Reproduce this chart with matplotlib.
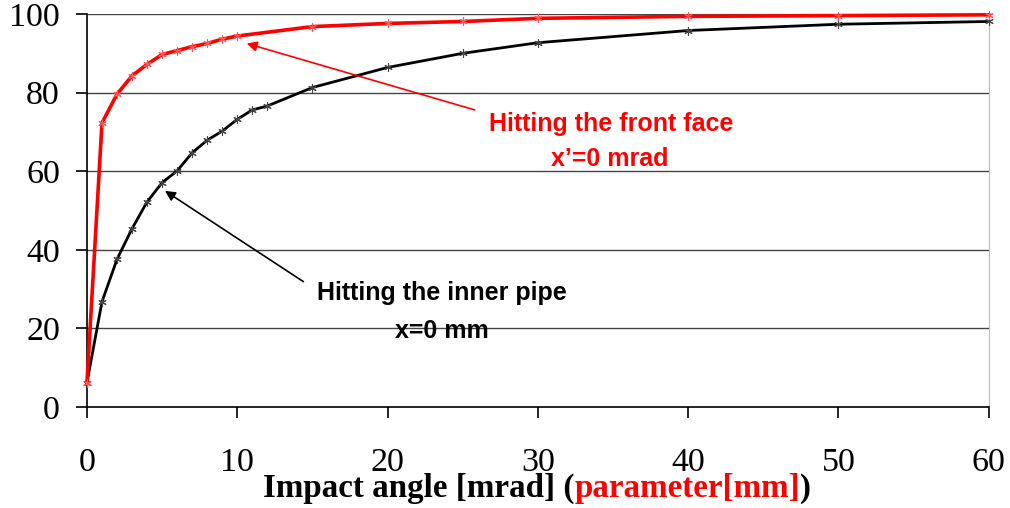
import matplotlib.pyplot as plt
import numpy as np

# data
front_x = [0, 1, 2, 3, 4, 5, 6, 7, 8, 9, 10, 15, 20, 25, 30, 40, 50, 60]
front_y = [6.2, 72.3, 79.6, 84.3, 87.2, 89.7, 90.7, 91.7, 92.5, 93.6, 94.4,
           96.8, 97.6, 98.1, 98.9, 99.4, 99.6, 99.8]
pipe_x = [0, 1, 2, 3, 4, 5, 6, 7, 8, 9, 10, 11, 12, 15, 20, 25, 30, 40, 50, 60]
pipe_y = [6.2, 26.8, 37.6, 45.4, 52.2, 57.1, 60.1, 64.7, 67.9, 70.2, 73.2,
          75.6, 76.6, 81.3, 86.4, 90.0, 92.7, 95.8, 97.4, 98.1]
x_ticks = [0, 10, 20, 30, 40, 50, 60]
y_ticks = [0, 20, 40, 60, 80, 100]

fig = plt.figure(figsize=(10.1, 5.08), dpi=100)
ax = fig.add_axes([0.0861, 0.1988, 0.8929, 0.7736])

ax.set_xlim(0, 60)
ax.set_ylim(0, 100)
for y in y_ticks[1:]:
    ax.axhline(y, color='#444444', lw=1, zorder=1)

star = (6, 2, 0)  ##asterisk marker like excel
ax.plot(pipe_x, pipe_y, color='black', lw=2.0, marker=star, ms=6,
        mec='#444444', mew=0.8, zorder=3, clip_on=False)
ax.plot(front_x, front_y, color='red', lw=2.6, marker=star, ms=6,
        mec='#ff5555', mew=0.8, zorder=4, clip_on=False)

ax.spines['top'].set_visible(False)
ax.spines['right'].set_color('#bbbbbb')
ax.spines['left'].set_linewidth(1.2)
ax.spines['bottom'].set_linewidth(1.2)

ax.set_xticks(x_ticks)
ax.set_yticks(y_ticks)
ax.tick_params(direction='out', length=8, width=1.2, labelsize=24.5)
ax.tick_params(axis='x', pad=21)
ax.tick_params(axis='y', pad=11.5)
for lab in ax.get_xticklabels() + ax.get_yticklabels():
    lab.set_fontfamily('Liberation Serif')

# x label in two colours, placed in pixels
fs = 23.8
base = fig.transFigure
lab_y = 1 - 497 / 508
parts = [('Impact angle [mrad] (', 'black'), ('parameter[mm]', 'red'), (')', 'black')]
fig.canvas.draw()
r = fig.canvas.get_renderer()
xpix = 263
for txt, col in parts:
    t = fig.text(xpix / 1010, lab_y, txt, fontfamily='Liberation Serif',
                 fontweight='bold', fontsize=fs, color=col,
                 ha='left', va='baseline')
    xpix += t.get_window_extent(r).width

# annotations
ax.annotate('', xy=(10.63, 92.5), xytext=(25.8, 75.6),
            arrowprops=dict(arrowstyle='-|>', color='red', lw=1.2,
                            mutation_scale=15, shrinkA=0, shrinkB=0))
ax.text(34.9, 72.0, 'Hitting the front face', color='red', fontsize=18,
        fontweight='bold', fontfamily='Liberation Sans', ha='center', va='center')
ax.text(34.8, 63.2, 'x\u2019=0 mrad', color='red', fontsize=18,
        fontweight='bold', fontfamily='Liberation Sans', ha='center', va='center')

ax.annotate('', xy=(5.19, 55.0), xytext=(14.4, 31.9),
            arrowprops=dict(arrowstyle='-|>', color='black', lw=1.2,
                            mutation_scale=15, shrinkA=0, shrinkB=0))
ax.text(23.6, 29.0, 'Hitting the inner pipe', color='black', fontsize=18,
        fontweight='bold', fontfamily='Liberation Sans', ha='center', va='center')
ax.text(23.6, 19.4, 'x=0 mm', color='black', fontsize=18,
        fontweight='bold', fontfamily='Liberation Sans', ha='center', va='center')

fig.savefig('out.png', dpi=100)
